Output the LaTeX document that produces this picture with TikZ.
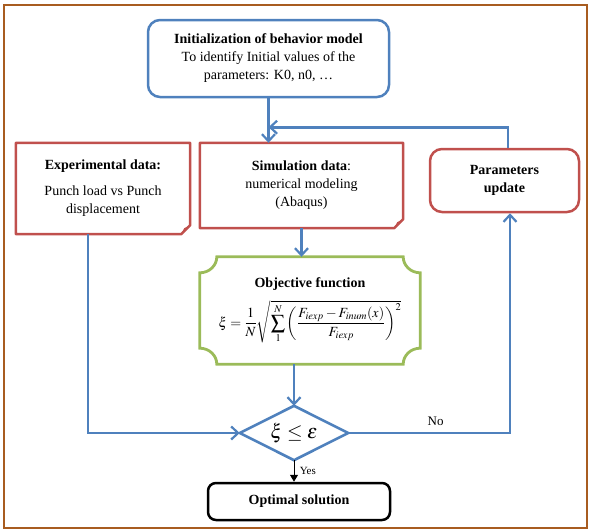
\documentclass[tikz,border=0pt]{standalone}
\usepackage{mathptmx}
\usepackage{fontspec}
\setmainfont{Liberation Serif}
\usetikzlibrary{arrows.meta,calc}
\definecolor{cframe}{RGB}{168,92,32}
\definecolor{cblue}{RGB}{79,129,189}
\definecolor{cred}{RGB}{192,80,77}
\definecolor{cgreen}{RGB}{155,187,89}
\begin{document}
\begin{tikzpicture}[x=1pt,y=-1pt,
  txt/.style={align=center, inner sep=0pt, font=\fontsize{14}{18}\selectfont},
  box/.style={txt, draw, line width=2.5pt},
  blueline/.style={draw=cblue, line width=2.6pt},
  redline/.style={draw=cred, line width=2.5pt, line join=round},
  greenline/.style={draw=cgreen, line width=2.8pt},
  arr/.style={blueline, -{Straight Barb[length=7pt,width=13pt,line width=2.2pt]}},
  lab/.style={font=\fontsize{13}{15}\selectfont}
]
\useasboundingbox (0,0) rectangle (589,530);
\draw[draw=cframe, line width=2.5pt] (4,5) rectangle (587,528);

% nodes
\node[box, draw=cblue, rounded corners=12pt, minimum width=241pt, minimum height=77pt] (init) at (268.5,58.5)
  {\textbf{Initialization of behavior model}\\To identify Initial values of the\\parameters: K0, n0, …};

\node[txt, minimum width=174pt, minimum height=91pt] (exp) at (103,188.5)
  {\textbf{Experimental data:}\\[8pt]Punch load vs Punch\\displacement};
\draw[redline] (exp.north west) -- (exp.north east) -- ([yshift=9pt]exp.south east)
  -- ([xshift=-9pt]exp.south east) -- (exp.south west) -- cycle;
\fill[cred] ([yshift=9pt]exp.south east) -- ([shift={(-6pt,6pt)}]exp.south east) -- ([xshift=-9pt]exp.south east) -- cycle;

\node[txt, minimum width=203pt, minimum height=85pt] (sim) at (301.5,185.5)
  {\textbf{Simulation data}:\\numerical modeling\\(Abaqus)};
\draw[redline] (sim.north west) -- (sim.north east) -- ([yshift=9pt]sim.south east)
  -- ([xshift=-9pt]sim.south east) -- (sim.south west) -- cycle;
\fill[cred] ([yshift=9pt]sim.south east) -- ([shift={(-6pt,6pt)}]sim.south east) -- ([xshift=-9pt]sim.south east) -- cycle;

\node[box, draw=cred, rounded corners=12pt, minimum width=149pt, minimum height=63pt] (par) at (504.5,180.5)
  {\textbf{Parameters}\\\textbf{update}};

\node[txt, minimum width=220pt, minimum height=107pt] (obj) at (310,310.5)
  {\textbf{Objective function}\\[9pt]
   $\displaystyle \xi=\frac{1}{N}\sqrt{\sum_{1}^{N}\left(\frac{F_{iexp}-F_{inum}(x)}{F_{iexp}}\right)^{2}}$};
\draw[greenline]
  ([xshift=17pt]obj.north west) -- ([xshift=-17pt]obj.north east)
  .. controls ([shift={(-17pt,-8.8pt)}]obj.north east) and ([shift={(-9.4pt,-16pt)}]obj.north east) .. ([yshift=-16pt]obj.north east)
  -- ([yshift=16pt]obj.south east)
  .. controls ([shift={(-9.4pt,16pt)}]obj.south east) and ([shift={(-17pt,8.8pt)}]obj.south east) .. ([xshift=-17pt]obj.south east)
  -- ([xshift=17pt]obj.south west)
  .. controls ([shift={(17pt,8.8pt)}]obj.south west) and ([shift={(9.4pt,16pt)}]obj.south west) .. ([yshift=16pt]obj.south west)
  -- ([yshift=-16pt]obj.north west)
  .. controls ([shift={(9.4pt,-16pt)}]obj.north west) and ([shift={(17pt,-8.8pt)}]obj.north west) .. ([xshift=17pt]obj.north west)
  -- cycle;

\node[inner sep=0pt, minimum width=108pt, minimum height=54pt, font=\fontsize{20}{22}\selectfont] (dec) at (294,433)
  {$\xi\le\varepsilon$};
\draw[blueline, line join=miter] (dec.west) -- (dec.north) -- (dec.east) -- (dec.south) -- cycle;

\node[box, draw=black, rounded corners=8pt, minimum width=182pt, minimum height=37pt] (opt) at (299,501.5)
  {\textbf{Optimal solution}};

% connectors
\draw[arr] (init.south) -- (init.south |- sim.north);
\draw[arr] ([xshift=3.5pt]par.north) |- ($(init.south)!0.65!(init.south |- sim.north)$);
\draw[arr] (sim.south) -- (sim.south |- obj.north);
\draw[arr] (obj.south -| dec.north) -- (dec.north);
\draw[arr] ([xshift=-15pt]exp.south) |- (dec.west);
\draw[arr] (dec.east) -| ([xshift=5.5pt]par.south) node[pos=0.27, above=3pt, lab] {No};
\draw[-{Triangle[length=7pt,width=8pt]}, line width=1pt] (dec.south) -- (dec.south |- opt.north)
  node[midway, right=2pt, font=\fontsize{11}{13}\selectfont] {Yes};
\end{tikzpicture}
\end{document}
